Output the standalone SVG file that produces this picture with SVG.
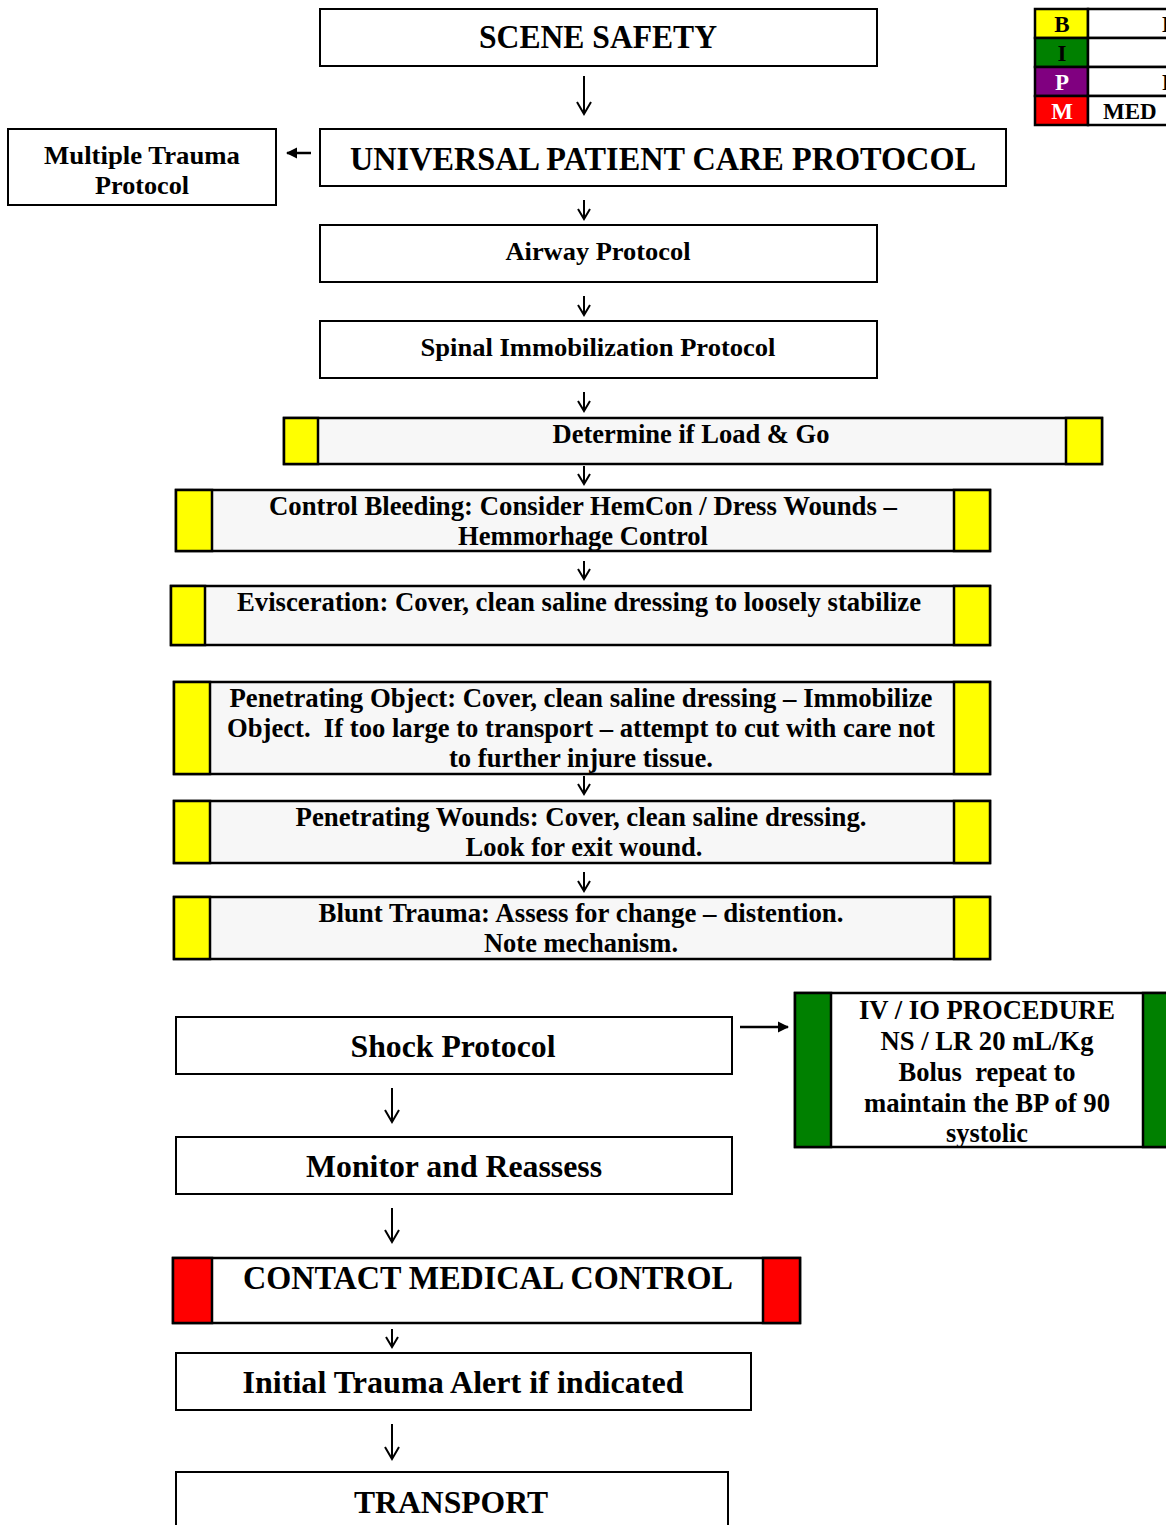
<svg xmlns="http://www.w3.org/2000/svg" width="1166" height="1525" viewBox="0 0 1166 1525">
  <style>
    text { font-family: 'Liberation Serif', serif; font-weight: 700; fill: #000; text-anchor: middle; white-space: pre; }
    .box { fill: #fff; stroke: #000; stroke-width: 2; }
    .band { fill: #f7f7f7; stroke: #000; stroke-width: 2.5; }
    .yel { fill: #ffff00; stroke: #000; stroke-width: 2.5; }
    .grn { fill: #008000; stroke: #000; stroke-width: 2.5; }
    .red { fill: #ff0000; stroke: #000; stroke-width: 2.5; }
    .t25 { font-size: 26px; }
    .t26 { font-size: 27px; }
    .t30 { font-size: 31px; }
    .t32 { font-size: 33px; }
    .down { fill: none; stroke: #000; stroke-width: 2; }
    .cell { stroke: #000; stroke-width: 2.5; }
    .leg { font-size: 23px; }
  </style>
  <defs>
    <marker id="head" viewBox="0 0 10 10" refX="9" refY="5" markerWidth="4.5" markerHeight="4.5" orient="auto">
      <path d="M0,0 L10,5 L0,10 z" fill="#000"/>
    </marker>
  </defs>

  <!-- key table -->
  <g id="legend">
    <rect class="cell" x="1035" y="9" width="53" height="29" fill="#ffff00"/>
    <rect class="cell" x="1035" y="38" width="53" height="29" fill="#008000"/>
    <rect class="cell" x="1035" y="67" width="53" height="29" fill="#800080"/>
    <rect class="cell" x="1035" y="96" width="53" height="29" fill="#ff0000"/>
    <rect class="cell" x="1088" y="9" width="90" height="29" fill="#fff"/>
    <rect class="cell" x="1088" y="38" width="90" height="29" fill="#fff"/>
    <rect class="cell" x="1088" y="67" width="90" height="29" fill="#fff"/>
    <rect class="cell" x="1088" y="96" width="90" height="29" fill="#fff"/>
    <text class="leg" x="1062" y="32">B</text>
    <text class="leg" x="1062" y="61">I</text>
    <text class="leg" x="1062" y="90" style="fill:#fff">P</text>
    <text class="leg" x="1062" y="119" style="fill:#fff">M</text>
    <text class="leg" x="1162" y="32" style="text-anchor:start">B</text>
    <text class="leg" x="1162" y="90" style="text-anchor:start">P</text>
    <text class="leg" x="1103" y="119" style="text-anchor:start">MED</text>
  </g>

  <g id="scene-safety">
    <rect class="box" x="320" y="9" width="557" height="57"/>
    <text class="t32" x="598" y="48" textLength="238" lengthAdjust="spacingAndGlyphs">SCENE SAFETY</text>
  </g>

  <g id="universal">
    <rect class="box" x="320" y="129" width="686" height="57"/>
    <text class="t32" x="663" y="170" textLength="626" lengthAdjust="spacingAndGlyphs">UNIVERSAL PATIENT CARE PROTOCOL</text>
  </g>

  <g id="multiple-trauma">
    <rect class="box" x="8" y="129" width="268" height="76"/>
    <text class="t25" x="142" y="164" textLength="196" lengthAdjust="spacingAndGlyphs">Multiple Trauma</text>
    <text class="t25" x="142" y="194" textLength="94" lengthAdjust="spacingAndGlyphs">Protocol</text>
  </g>

  <g id="airway">
    <rect class="box" x="320" y="225" width="557" height="57"/>
    <text class="t25" x="598" y="260" textLength="185" lengthAdjust="spacingAndGlyphs">Airway Protocol</text>
  </g>

  <g id="spinal">
    <rect class="box" x="320" y="321" width="557" height="57"/>
    <text class="t25" x="598" y="356" textLength="355" lengthAdjust="spacingAndGlyphs">Spinal Immobilization Protocol</text>
  </g>

  <g id="load-and-go">
    <rect class="band" x="284" y="418" width="818" height="46"/>
    <rect class="yel" x="284" y="418" width="34" height="46"/>
    <rect class="yel" x="1066" y="418" width="36" height="46"/>
    <text class="t26" x="691" y="443" textLength="277" lengthAdjust="spacingAndGlyphs">Determine if Load &amp; Go</text>
  </g>

  <g id="control-bleeding">
    <rect class="band" x="176" y="490" width="814" height="61"/>
    <rect class="yel" x="176" y="490" width="36" height="61"/>
    <rect class="yel" x="954" y="490" width="36" height="61"/>
    <text class="t26" x="583" y="515" textLength="628" lengthAdjust="spacingAndGlyphs">Control Bleeding: Consider HemCon / Dress Wounds –</text>
    <text class="t26" x="583" y="545" textLength="250" lengthAdjust="spacingAndGlyphs">Hemmorhage Control</text>
  </g>

  <g id="evisceration">
    <rect class="band" x="171" y="586" width="819" height="59"/>
    <rect class="yel" x="171" y="586" width="34" height="59"/>
    <rect class="yel" x="954" y="586" width="36" height="59"/>
    <text class="t26" x="579" y="611" textLength="684" lengthAdjust="spacingAndGlyphs">Evisceration: Cover, clean saline dressing to loosely stabilize</text>
  </g>

  <g id="penetrating-object">
    <rect class="band" x="174" y="682" width="816" height="92"/>
    <rect class="yel" x="174" y="682" width="36" height="92"/>
    <rect class="yel" x="954" y="682" width="36" height="92"/>
    <text class="t26" x="581" y="707" textLength="703" lengthAdjust="spacingAndGlyphs">Penetrating Object: Cover, clean saline dressing – Immobilize</text>
    <text class="t26" x="581" y="737" textLength="708" lengthAdjust="spacingAndGlyphs">Object.  If too large to transport – attempt to cut with care not</text>
    <text class="t26" x="581" y="767" textLength="264" lengthAdjust="spacingAndGlyphs">to further injure tissue.</text>
  </g>

  <g id="penetrating-wounds">
    <rect class="band" x="174" y="801" width="816" height="62"/>
    <rect class="yel" x="174" y="801" width="36" height="62"/>
    <rect class="yel" x="954" y="801" width="36" height="62"/>
    <text class="t26" x="581" y="826" textLength="571" lengthAdjust="spacingAndGlyphs">Penetrating Wounds: Cover, clean saline dressing.</text>
    <text class="t26" x="584" y="856" textLength="237" lengthAdjust="spacingAndGlyphs">Look for exit wound.</text>
  </g>

  <g id="blunt-trauma">
    <rect class="band" x="174" y="897" width="816" height="62"/>
    <rect class="yel" x="174" y="897" width="36" height="62"/>
    <rect class="yel" x="954" y="897" width="36" height="62"/>
    <text class="t26" x="581" y="922" textLength="525" lengthAdjust="spacingAndGlyphs">Blunt Trauma: Assess for change – distention.</text>
    <text class="t26" x="581" y="952" textLength="194" lengthAdjust="spacingAndGlyphs">Note mechanism.</text>
  </g>

  <g id="shock">
    <rect class="box" x="176" y="1017" width="556" height="57"/>
    <text class="t30" x="453" y="1057" textLength="205" lengthAdjust="spacingAndGlyphs">Shock Protocol</text>
  </g>

  <g id="iv-io">
    <rect class="box" x="795" y="993" width="378" height="154" style="stroke-width:2.5"/>
    <rect class="grn" x="795" y="993" width="36" height="154"/>
    <rect class="grn" x="1143" y="993" width="30" height="154"/>
    <text class="t26" x="987" y="1019" textLength="256" lengthAdjust="spacingAndGlyphs">IV / IO PROCEDURE</text>
    <text class="t26" x="987" y="1050" textLength="213" lengthAdjust="spacingAndGlyphs">NS / LR 20 mL/Kg</text>
    <text class="t26" x="987" y="1081" textLength="177" lengthAdjust="spacingAndGlyphs">Bolus  repeat to</text>
    <text class="t26" x="987" y="1112" textLength="246" lengthAdjust="spacingAndGlyphs">maintain the BP of 90</text>
    <text class="t26" x="987" y="1142" textLength="82" lengthAdjust="spacingAndGlyphs">systolic</text>
  </g>

  <g id="monitor">
    <rect class="box" x="176" y="1137" width="556" height="57"/>
    <text class="t30" x="454" y="1177" textLength="296" lengthAdjust="spacingAndGlyphs">Monitor and Reassess</text>
  </g>

  <g id="contact-medical-control">
    <rect class="box" x="173" y="1258" width="627" height="65" style="stroke-width:2.5"/>
    <rect class="red" x="173" y="1258" width="39" height="65"/>
    <rect class="red" x="763" y="1258" width="37" height="65"/>
    <text class="t32" x="488" y="1289" textLength="490" lengthAdjust="spacingAndGlyphs">CONTACT MEDICAL CONTROL</text>
  </g>

  <g id="trauma-alert">
    <rect class="box" x="176" y="1353" width="575" height="57"/>
    <text class="t30" x="463" y="1393" textLength="441" lengthAdjust="spacingAndGlyphs">Initial Trauma Alert if indicated</text>
  </g>

  <g id="transport">
    <rect class="box" x="176" y="1472" width="552" height="60"/>
    <text class="t30" x="451" y="1513" textLength="194" lengthAdjust="spacingAndGlyphs">TRANSPORT</text>
  </g>

  <!-- connectors -->
  <g id="connectors">
    <path class="down" d="M584,76 V114 M577,102 L584,114 L591,102"/>
    <path class="down" d="M584,200 V219 M578,209 L584,219 L590,209"/>
    <path class="down" d="M584,296 V315 M578,305 L584,315 L590,305"/>
    <path class="down" d="M584,392 V411 M578,401 L584,411 L590,401"/>
    <path class="down" d="M584,466 V484 M578,474 L584,484 L590,474"/>
    <path class="down" d="M584,561 V579 M578,569 L584,579 L590,569"/>
    <path class="down" d="M584,776 V794 M578,784 L584,794 L590,784"/>
    <path class="down" d="M584,872 V891 M578,881 L584,891 L590,881"/>
    <path class="down" d="M392,1088 V1122 M385,1110 L392,1122 L399,1110"/>
    <path class="down" d="M392,1208 V1242 M385,1230 L392,1242 L399,1230"/>
    <path class="down" d="M392,1329 V1347 M386,1337 L392,1347 L398,1337"/>
    <path class="down" d="M392,1424 V1459 M385,1447 L392,1459 L399,1447"/>
    <path d="M311,153 H287" stroke="#000" stroke-width="2.5" fill="none" marker-end="url(#head)"/>
    <path d="M740,1027 H788" stroke="#000" stroke-width="2.5" fill="none" marker-end="url(#head)"/>
  </g>
</svg>
